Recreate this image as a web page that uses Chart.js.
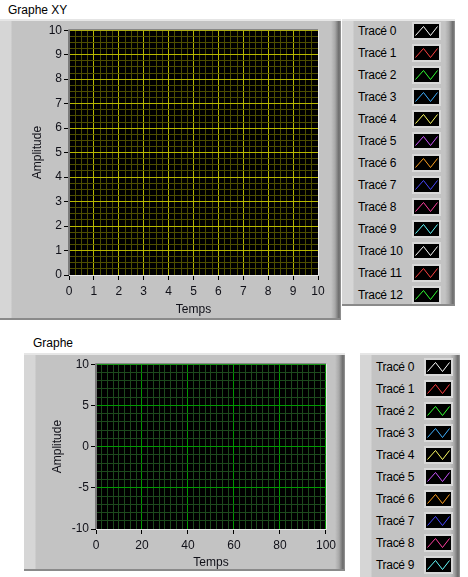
<!DOCTYPE html>
<html>
<head>
<meta charset="utf-8">
<script src="https://cdn.jsdelivr.net/npm/chart.js@4"></script>
<style>
    body { margin: 0; background: #fff; font-family: 'Liberation Sans', sans-serif; font-size: 12px; color: #000; }
    #page { position: relative; width: 468px; height: 577px; overflow: hidden; }
    .titre { position: absolute; font-size: 12px; line-height: 14px; }
    .cadre {
        position: absolute; box-sizing: border-box;
        background: linear-gradient(to right, #d6d6d6 0, #d6d6d6 11px, #c3c3c3 12px, #c3c3c3 calc(100% - 10px),
            #a8a8a8 calc(100% - 6px), #6a6a6a calc(100% - 2px), #9a9a9a 100%);
        border-top: 2px solid #e6e6e6; border-bottom: 2px solid #8a8a8a;
    }
    canvas.graphe { position: absolute; }
    .ligne { position: absolute; height: 18px; }
    .ligne span { position: absolute; left: 0; top: 2px; white-space: nowrap; line-height: 14px; letter-spacing: -0.3px; }
    .ligne canvas { position: absolute; top: 0; }
</style>
</head>
<body>
<div id="page">
    <div class="titre" style="left:8px;top:3px;">Graphe XY</div>
    <div class="cadre" style="left:0;top:19px;width:341px;height:301px;"></div>
    <canvas id="grapheXY" class="graphe" width="318" height="296" style="left:12px;top:21px;"></canvas>
    <div class="cadre" id="legendeXY" style="left:342px;top:19px;width:113px;height:287px;"></div>

    <div class="titre" style="left:33px;top:336px;">Graphe</div>
    <div class="cadre" style="left:24px;top:353px;width:321px;height:218px;"></div>
    <canvas id="graphe" class="graphe" width="304" height="215" style="left:36px;top:355px;"></canvas>
    <div class="cadre" id="legendeGraphe" style="left:360px;top:353px;width:100px;height:226px;"></div>
</div>
<script>
// Graphe XY : 13 tracés, vides
const xyNoms = ['Tracé 0', 'Tracé 1', 'Tracé 2', 'Tracé 3', 'Tracé 4', 'Tracé 5', 'Tracé 6',
    'Tracé 7', 'Tracé 8', 'Tracé 9', 'Tracé 10', 'Tracé 11', 'Tracé 12'];
const xyCouleurs = ['#ffffff', '#ff4040', '#33ff33', '#40b0ff', '#ffff66', '#cc55ff', '#ffa020',
    '#4848ff', '#ff40a0', '#66ffff', '#ffffff', '#ff4040', '#33ff33'];
const xyDonnees = [[], [], [], [], [], [], [], [], [], [], [], [], []];
const xyTemps = [0, 10];        // min, max
const xyAmplitude = [0, 10];

// Graphe : 10 tracés, vides
const grapheNoms = ['Tracé 0', 'Tracé 1', 'Tracé 2', 'Tracé 3', 'Tracé 4', 'Tracé 5', 'Tracé 6',
    'Tracé 7', 'Tracé 8', 'Tracé 9'];
const grapheCouleurs = ['#ffffff', '#ff4040', '#33ff33', '#40b0ff', '#ffff66', '#cc55ff', '#ffa020',
    '#4848ff', '#ff40a0', '#66ffff'];
const grapheDonnees = [[], [], [], [], [], [], [], [], [], []];
const grapheTemps = [0, 100];
const grapheAmplitude = [-10, 10];

Chart.defaults.font.family = "'Liberation Sans', sans-serif";
Chart.defaults.font.size = 12;
Chart.defaults.color = '#101018';

// fond noir de la zone de tracé + bordure en relief
const fondNoir = {
    id: 'fondNoir',
    beforeDraw(chart) {
        const a = chart.chartArea;
        const ctx = chart.ctx;
        ctx.save();
        ctx.fillStyle = '#000';
        ctx.fillRect(a.left, a.top, a.right - a.left, a.bottom - a.top);
        ctx.restore();
    },
    afterDraw(chart) {
        const a = chart.chartArea;
        const ctx = chart.ctx;
        ctx.save();
        ctx.lineWidth = 1;
        ctx.strokeStyle = '#7a7a7a';
        ctx.beginPath();
        ctx.moveTo(a.left - 0.5, a.bottom);
        ctx.lineTo(a.left - 0.5, a.top - 0.5);
        ctx.lineTo(a.right, a.top - 0.5);
        ctx.stroke();
        ctx.strokeStyle = '#e8e8e8';
        ctx.beginPath();
        ctx.moveTo(a.left, a.bottom + 0.5);
        ctx.lineTo(a.right + 0.5, a.bottom + 0.5);
        ctx.lineTo(a.right + 0.5, a.top);
        ctx.stroke();
        ctx.restore();
    }
};

function estMultiple(v, m) {
    return Math.abs(v / m - Math.round(v / m)) < 1e-9;
}

function creerGraphe(id, noms, couleurs, donnees, temps, amplitude, o) {
    const axe = function (bornes, pas, majeur, largeur, hauteur, titre, titrePad, tickPad) {
        return {
            type: 'linear',
            min: bornes[0],
            max: bornes[1],
            border: { color: '#7a7a7a' },
            grid: {
                color: function (c) {
                    return (c.tick && estMultiple(c.tick.value, majeur)) ? o.grilleMajeure : o.grilleMineure;
                },
                tickColor: function (c) {
                    return (c.tick && estMultiple(c.tick.value, majeur)) ? '#000' : 'rgba(0,0,0,0)';
                },
                tickLength: 5,
                lineWidth: 1
            },
            ticks: {
                stepSize: pas,
                autoSkip: false,
                maxRotation: 0,
                padding: tickPad,
                callback: v => estMultiple(v, majeur) ? String(Math.round(v)) : ''
            },
            title: { display: true, text: titre, padding: { top: titrePad, bottom: 0 } },
            afterFit: function (scale) {
                if (largeur) scale.width = largeur;
                if (hauteur) scale.height = hauteur;
            }
        };
    };

    return new Chart(document.getElementById(id), {
        type: 'line',
        data: {
            datasets: noms.map((nom, i) => ({
                label: nom,
                data: donnees[i],
                borderColor: couleurs[i],
                backgroundColor: couleurs[i],
                borderWidth: 1,
                pointRadius: 0
            }))
        },
        options: {
            responsive: false,
            animation: false,
            layout: { padding: { top: 8, right: 12, left: 0, bottom: 0 } },
            plugins: { legend: { display: false }, tooltip: { enabled: false } },
            scales: {
                x: axe(temps, o.pasX, o.majX, null, o.hauteurX, 'Temps', 2, 4),
                y: axe(amplitude, o.pasY, o.majY, o.largeurY, null, 'Amplitude', o.padTitreY, 2)
            }
        },
        plugins: [fondNoir]
    });
}

// légende façon LabVIEW, construite depuis les datasets
function dessinerLegende(chart, boiteId, texteX, echX, y0) {
    const boite = document.getElementById(boiteId);
    chart.data.datasets.forEach((ds, i) => {
        const ligne = document.createElement('div');
        ligne.className = 'ligne';
        ligne.style.left = '0px';
        ligne.style.width = '100%';
        ligne.style.top = (y0 + i * 22) + 'px';
        const t = document.createElement('span');
        t.textContent = ds.label;
        t.style.left = texteX + 'px';
        ligne.appendChild(t);
        const c = document.createElement('canvas');
        c.width = 29;
        c.height = 18;
        c.style.left = echX + 'px';
        const g = c.getContext('2d');
        g.fillStyle = '#d8d8d8';
        g.fillRect(0, 0, 29, 18);
        g.fillStyle = '#000';
        g.fillRect(2, 2, 25, 14);
        g.strokeStyle = ds.borderColor;
        g.lineWidth = 1;
        g.beginPath();
        g.moveTo(3.5, 13.5);
        g.lineTo(11.5, 4.5);
        g.lineTo(18.5, 13.5);
        g.lineTo(25.5, 4.5);
        g.stroke();
        ligne.appendChild(c);
        boite.appendChild(ligne);
    });
}

const chartXY = creerGraphe('grapheXY', xyNoms, xyCouleurs, xyDonnees, xyTemps, xyAmplitude, {
    pasX: 0.25, majX: 1, pasY: 0.25, majY: 1,
    largeurY: 57, hauteurX: 42, padTitreY: 18,
    grilleMajeure: '#b8b800', grilleMineure: '#4e4e00'
});

const chartGraphe = creerGraphe('graphe', grapheNoms, grapheCouleurs, grapheDonnees, grapheTemps, grapheAmplitude, {
    pasX: 2.5, majX: 20, pasY: 1, majY: 5,
    largeurY: 60, hauteurX: 41, padTitreY: 14,
    grilleMajeure: '#009a00', grilleMineure: '#1d4a1d'
});

dessinerLegende(chartXY, 'legendeXY', 16, 70, 1);
dessinerLegende(chartGraphe, 'legendeGraphe', 16, 64, 3);
</script>
</body>
</html>
